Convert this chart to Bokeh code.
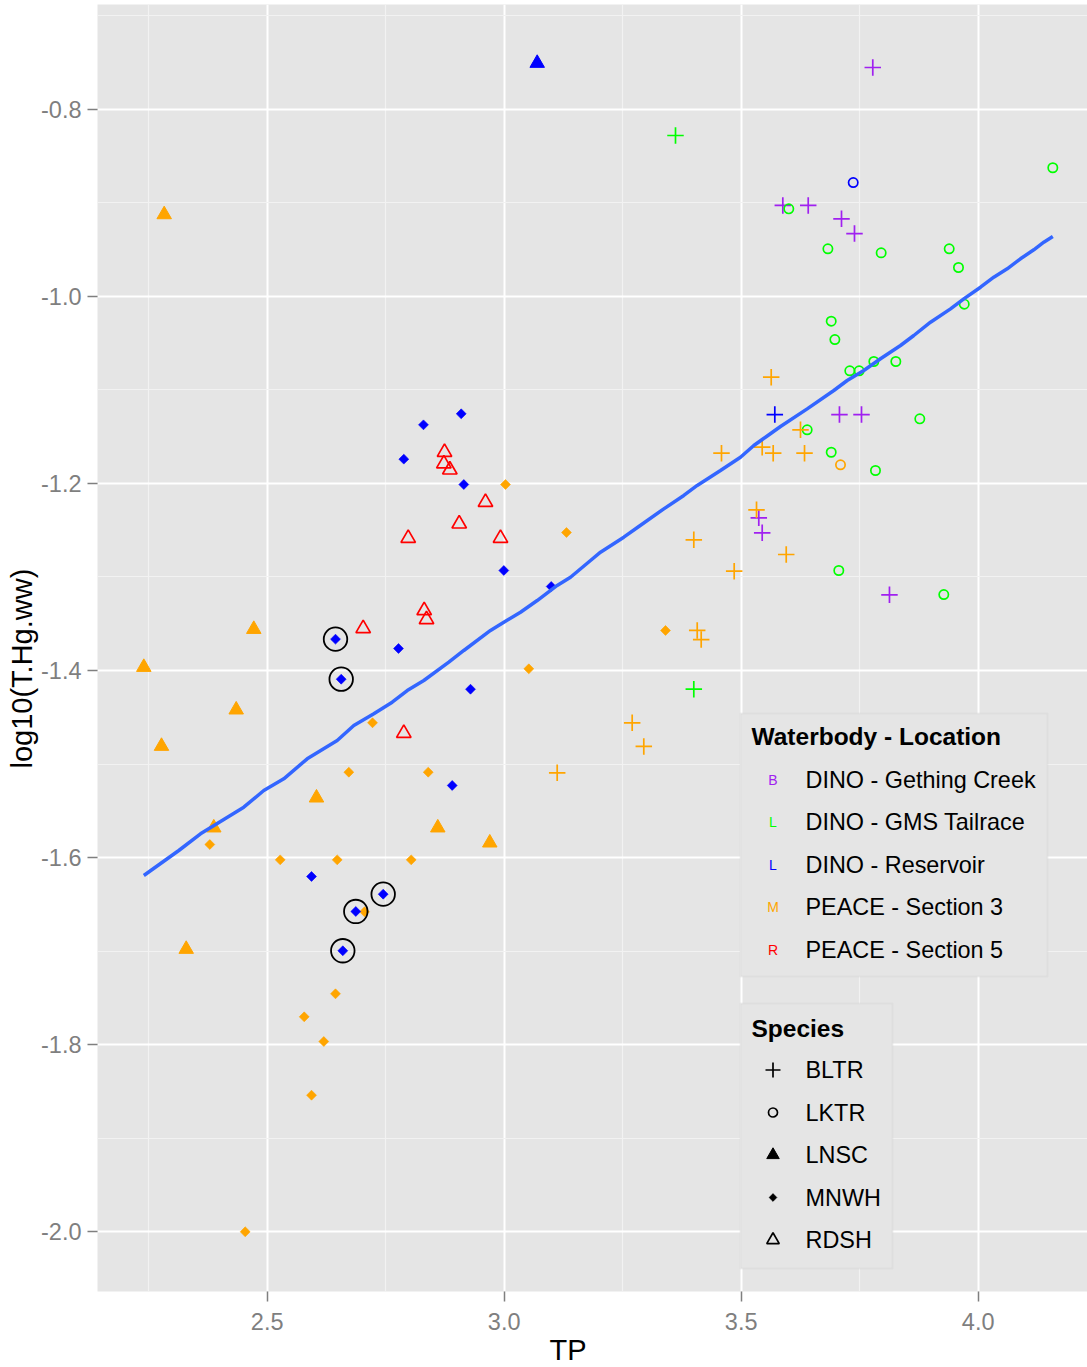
import numpy as np
from bokeh.plotting import figure
from bokeh.models import Range1d, FixedTicker, PrintfTickFormatter, Label, BoxAnnotation, Title
from bokeh.embed import file_html
from bokeh.resources import INLINE

# ---- data: TP (x) against log10(T.Hg.ww) (y), by waterbody-location and species ----
gething_bltr_tp = [3.7776, 3.5878, 3.6414, 3.7116, 3.7390, 3.7073, 3.7538, 3.5371, 3.5443, 3.8128]
gething_bltr_hg = [-0.7554, -0.9029, -0.9029, -0.9172, -0.9329, -1.1264, -1.1264, -1.2368, -1.2528, -1.3191]

gms_bltr_tp = [3.3614, 3.4000]
gms_bltr_hg = [-0.8281, -1.4200]
gms_lktr_tp = [4.1574, 3.6004, 3.6829, 3.7953, 3.9388, 3.9584, 3.9705, 3.6899, 3.6976, 3.7291,
               3.7489, 3.7798, 3.8262, 3.8768, 3.6392, 3.6899, 3.7833, 3.7059, 3.9274]
gms_lktr_hg = [-0.8626, -0.9065, -0.9492, -0.9535, -0.9492, -0.9692, -1.0084, -1.0266, -1.0462, -1.0796,
               -1.0796, -1.0697, -1.0697, -1.1310, -1.1427, -1.1667, -1.1862, -1.2931, -1.3188]

res_bltr_tp = [3.5709]
res_bltr_hg = [-1.1264]
res_lktr_tp = [3.7363]
res_lktr_hg = [-0.8784]
res_lnsc_tp = [3.0696]
res_lnsc_hg = [-0.7508]
res_mnwh_tp = [2.9093, 2.8297, 2.7882, 2.9148, 2.9992, 3.0992, 2.6441, 2.7770, 2.6561, 2.9289,
               2.8903, 2.5935, 2.7447, 2.6869, 2.6595]
res_mnwh_hg = [-1.1256, -1.1374, -1.1741, -1.2012, -1.2931, -1.3102, -1.3665, -1.3765, -1.4093, -1.4200,
               -1.5229, -1.6202, -1.6391, -1.6576, -1.6996]

s3_bltr_tp = [3.1118, 3.5633, 3.6251, 3.4584, 3.5443, 3.5675, 3.6336, 3.5323, 3.4000, 3.5950,
              3.4852, 3.4072, 3.4156, 3.2700, 3.2945]
s3_bltr_hg = [-1.5094, -1.0865, -1.1427, -1.1677, -1.1613, -1.1677, -1.1677, -1.2282, -1.2603, -1.2760,
              -1.2938, -1.3572, -1.3669, -1.4559, -1.4812]
s3_lktr_tp = [3.7095]
s3_lktr_hg = [-1.1801]
s3_lnsc_tp = [2.2827, 2.4717, 2.2397, 2.4346, 2.2770, 2.6040, 2.8599, 2.3873, 2.9696, 2.3291]
s3_lnsc_hg = [-0.9126, -1.3559, -1.3965, -1.4420, -1.4809, -1.5361, -1.5681, -1.5681, -1.5842, -1.6979]
s3_mnwh_tp = [3.0027, 3.1314, 3.0519, 2.7222, 2.6722, 2.8397, 2.3789, 2.5274, 2.6477, 2.8038,
              2.7053, 2.6441, 2.5781, 2.6194, 2.5935, 2.4536, 3.3403]
s3_mnwh_hg = [-1.2012, -1.2525, -1.3982, -1.4559, -1.5087, -1.5087, -1.5860, -1.6024, -1.6024, -1.6024,
              -1.6579, -1.7456, -1.7702, -1.7966, -1.8540, -2.0000, -1.3572]

s5_rdsh_tp = [2.8741, 2.8727, 2.8853, 2.9605, 2.9051, 2.7975, 2.9922, 2.8312, 2.8361, 2.7025, 2.7882]
s5_rdsh_hg = [-1.1667, -1.1790, -1.1855, -1.2201, -1.2432, -1.2586, -1.2586, -1.3359, -1.3455, -1.3551, -1.4670]

# ringed fish
flag_tp = [2.6441, 2.6561, 2.7447, 2.6869, 2.6595]
flag_hg = [-1.3665, -1.4093, -1.6391, -1.6576, -1.6996]

# smoothed fit
smooth_tp = [2.2397, 2.3135, 2.3593, 2.4506, 2.4928, 2.5350, 2.5844, 2.6477, 2.6827, 2.7249,
             2.7637, 2.7954, 2.8304, 2.8831, 2.9148, 2.9711, 2.9992, 3.0344, 3.0696, 3.1118,
             3.1399, 3.1821, 3.2032, 3.2523, 3.2840, 3.3367, 3.3789, 3.4072, 3.4563, 3.4985,
             3.5266, 3.5549, 3.5829, 3.6392, 3.6954, 3.7236, 3.7586, 3.7939, 3.8361, 3.8641,
             3.8994, 3.9416, 3.9696, 4.0049, 4.0329, 4.0612, 4.0892, 4.1173, 4.1384, 4.1574]
smooth_hg = [-1.6191, -1.5924, -1.5746, -1.5461, -1.5283, -1.5158, -1.4944, -1.4748, -1.4588, -1.4463,
             -1.4339, -1.4214, -1.4107, -1.3911, -1.3786, -1.3572, -1.3484, -1.3377, -1.3252, -1.3091,
             -1.3003, -1.2824, -1.2735, -1.2575, -1.2461, -1.2272, -1.2129, -1.2022, -1.1862, -1.1720,
             -1.1595, -1.1493, -1.1392, -1.1203, -1.1007, -1.0900, -1.0793, -1.0668, -1.0526, -1.0419,
             -1.0277, -1.0134, -1.0027, -0.9903, -0.9796, -0.9706, -0.9599, -0.9503, -0.9422, -0.9361]

x_ticks = [2.5, 3.0, 3.5, 4.0]
x_minor = [2.25, 2.75, 3.25, 3.75, 4.25]
y_ticks = [-0.8, -1.0, -1.2, -1.4, -1.6, -1.8, -2.0]
y_minor = [-0.7, -0.9, -1.1, -1.3, -1.5, -1.7, -1.9, -2.1]

location_names = ["DINO - Gething Creek", "DINO - GMS Tailrace", "DINO - Reservoir",
                  "PEACE - Section 3", "PEACE - Section 5"]
location_keys = ["B", "L", "L", "M", "R"]
species_names = ["BLTR", "LKTR", "LNSC", "MNWH", "RDSH"]

# ---- styling ----
FONT = "Liberation Sans"
C_GETHING, C_GMS, C_RES, C_S3, C_S5 = "#A020F0", "#00FF00", "#0000FF", "#FFA500", "#FF0000"
location_colors = [C_GETHING, C_GMS, C_RES, C_S3, C_S5]
GREY_TXT = "#7F7F7F"

X0, X1 = 2.14198, 4.23059
Y0, Y1 = -2.06382, -0.68808
FL, FT, FW, FH = 97, 4, 990, 1287


def xd(px):
    return X0 + (px - FL) * (X1 - X0) / FW


def yd(py):
    return Y1 - (py - FT) * (Y1 - Y0) / FH


p = figure(width=1087, height=1367, x_range=Range1d(X0, X1), y_range=Range1d(Y0, Y1),
           output_backend="svg", toolbar_location=None, title=None,
           min_border_left=FL, min_border_right=0, min_border_top=FT, min_border_bottom=76)
p.background_fill_color = "#E5E5E5"
p.border_fill_color = "white"
p.outline_line_color = None

for ax, ticks, minor in ((p.xaxis[0], x_ticks, x_minor), (p.yaxis[0], y_ticks, y_minor)):
    ax.ticker = FixedTicker(ticks=ticks, minor_ticks=minor)
    ax.formatter = PrintfTickFormatter(format="%.1f")
    ax.axis_line_color = None
    ax.major_tick_line_color = GREY_TXT
    ax.major_tick_line_width = 1.5
    ax.major_tick_out = 10
    ax.major_tick_in = 0
    ax.minor_tick_out = 0
    ax.minor_tick_in = 0
    ax.major_label_text_color = GREY_TXT
    ax.major_label_text_font = FONT
    ax.major_label_text_font_size = "23.5px"
    ax.major_label_standoff = 6
p.xaxis[0].major_label_standoff = 11

for g in (p.xgrid[0], p.ygrid[0]):
    g.grid_line_color = "white"
    g.grid_line_width = 2
    g.minor_grid_line_color = "#F2F2F2"
    g.minor_grid_line_width = 1.2

# ---- axis titles ----
p.add_layout(Title(text="TP", align="left", offset=452, vertical_align="middle", standoff=0,
                   text_font=FONT, text_font_size="29px", text_font_style="normal",
                   text_color="black"), "below")
p.add_layout(Title(text="log10(T.Hg.ww)", align="left", offset=523, vertical_align="middle",
                   standoff=0, text_font=FONT, text_font_size="29px", text_font_style="normal",
                   text_color="black"), "left")

# ---- points ----
def plus(xs, ys, color):
    p.scatter(xs, ys, marker="cross", size=16.5, line_color=color, line_width=1.7)


def ring(xs, ys, color):
    p.scatter(xs, ys, marker="circle", size=9.3, fill_color=None, line_color=color, line_width=1.7)


def solid_tri(xs, ys, color):
    p.scatter(xs, ys, marker="triangle", size=14.5, fill_color=color, line_color=color, line_width=1)


def open_tri(xs, ys, color):
    p.scatter(xs, ys, marker="triangle", size=14.5, fill_color=None, line_color=color, line_width=1.7)


def diamond(xs, ys, color):
    p.scatter(xs, ys, marker="square", angle=np.pi / 4, size=7, fill_color=color,
              line_color=color, line_width=0.6)


plus(gething_bltr_tp, gething_bltr_hg, C_GETHING)
plus(gms_bltr_tp, gms_bltr_hg, C_GMS)
ring(gms_lktr_tp, gms_lktr_hg, C_GMS)
plus(res_bltr_tp, res_bltr_hg, C_RES)
ring(res_lktr_tp, res_lktr_hg, C_RES)
solid_tri(res_lnsc_tp, res_lnsc_hg, C_RES)
plus(s3_bltr_tp, s3_bltr_hg, C_S3)
ring(s3_lktr_tp, s3_lktr_hg, C_S3)
solid_tri(s3_lnsc_tp, s3_lnsc_hg, C_S3)
diamond(s3_mnwh_tp, s3_mnwh_hg, C_S3)
diamond(res_mnwh_tp, res_mnwh_hg, C_RES)
open_tri(s5_rdsh_tp, s5_rdsh_hg, C_S5)

p.scatter(flag_tp, flag_hg, marker="circle", size=23.5, fill_color=None, line_color="black", line_width=1.8)

p.line(smooth_tp, smooth_hg, line_color="#3366FF", line_width=3.5)

# ---- legends ----
LEG_FILL, LEG_LINE = "#E5E5E5", "#CCCCCC"
ROW = 42.5
KEY_X, LAB_X, TITLE_X = 772.5, 805, 751

p.add_layout(BoxAnnotation(left=xd(740), right=xd(1047), top=yd(713), bottom=yd(976),
                           fill_color=LEG_FILL, fill_alpha=1, line_color=LEG_LINE, line_width=2,
                           level="underlay"))
p.add_layout(BoxAnnotation(left=xd(740), right=xd(892), top=yd(1003), bottom=yd(1268),
                           fill_color=LEG_FILL, fill_alpha=1, line_color=LEG_LINE, line_width=2,
                           level="underlay"))

p.add_layout(Label(x=xd(TITLE_X), y=yd(736), text="Waterbody - Location", text_align="left",
                   text_baseline="middle", text_font=FONT, text_font_style="bold",
                   text_font_size="24.5px", text_color="black"))
for i, (name, key, col) in enumerate(zip(location_names, location_keys, location_colors)):
    cy = 779 + i * ROW
    p.add_layout(Label(x=xd(KEY_X), y=yd(cy), text=key, text_align="center", text_baseline="middle",
                       text_font=FONT, text_font_size="14px", text_color=col))
    p.add_layout(Label(x=xd(LAB_X), y=yd(cy), text=name, text_align="left", text_baseline="middle",
                       text_font=FONT, text_font_size="23.4px", text_color="black"))

p.add_layout(Label(x=xd(TITLE_X), y=yd(1027.5), text="Species", text_align="left",
                   text_baseline="middle", text_font=FONT, text_font_style="bold",
                   text_font_size="24.5px", text_color="black"))
key_styles = [
    dict(marker="cross", size=15, line_color="black", line_width=1.7),
    dict(marker="circle", size=9, fill_color=None, line_color="black", line_width=1.7),
    dict(marker="triangle", size=12.5, fill_color="black", line_color="black", line_width=1),
    dict(marker="square", angle=np.pi / 4, size=5.5, fill_color="black", line_color="black", line_width=0.6),
    dict(marker="triangle", size=12.5, fill_color=None, line_color="black", line_width=1.7),
]
for i, (name, style) in enumerate(zip(species_names, key_styles)):
    cy = 1069.5 + i * ROW
    p.scatter([xd(KEY_X)], [yd(cy)], **style)
    p.add_layout(Label(x=xd(LAB_X), y=yd(cy), text=name, text_align="left", text_baseline="middle",
                       text_font=FONT, text_font_size="23.4px", text_color="black"))

open("out.html", "w").write(file_html(p, INLINE))
